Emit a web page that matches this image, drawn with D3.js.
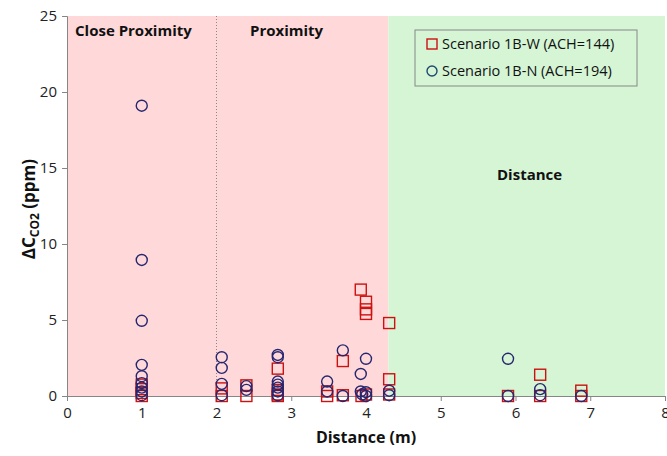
<!DOCTYPE html>
<html>
<head>
<meta charset="utf-8">
<script src="https://cdn.jsdelivr.net/npm/d3@7"></script>
<style>
  body { margin: 0; background: #fff; }
  text { font-family: "Open Sans", "Noto Sans", sans-serif; }
</style>
</head>
<body>
<svg id="chart" width="667" height="456"></svg>
<script>
// Scenario 1B-W (squares)
const wDist  = [1, 1, 1, 1, 2.07, 2.07, 2.4, 2.4, 2.82, 2.82, 2.82, 2.82, 3.48, 3.48, 3.69, 3.69,
                3.93, 3.94, 4.0, 4.0, 4.0, 4.0, 4.31, 4.31, 4.31, 5.9, 6.33, 6.33, 6.88, 6.88];
const wDelta = [0.75, 0.45, 0.2, 0, 0.5, 0, 0.7, 0, 1.8, 0.4, 0.1, 0, 0.3, 0, 2.3, 0.05,
                7.0, 0, 6.2, 5.7, 5.4, 0.1, 4.8, 1.1, 0.1, 0, 1.4, 0, 0.35, 0];
// Scenario 1B-N (circles)
const nDist  = [1, 1, 1, 1, 1, 1, 1, 1, 1, 2.07, 2.07, 2.07, 2.07, 2.4, 2.4,
                2.82, 2.82, 2.82, 2.82, 2.82, 2.82, 2.82, 3.48, 3.48, 3.69, 3.69,
                3.93, 3.93, 3.95, 4.0, 4.0, 4.0, 4.31, 4.31, 5.9, 5.9, 6.33, 6.33, 6.88];
const nDelta = [19.1, 8.95, 4.95, 2.05, 1.3, 0.85, 0.55, 0.3, 0.05, 2.55, 1.85, 0.8, 0.05, 0.65, 0.4,
                2.7, 2.55, 0.95, 0.75, 0.55, 0.3, 0.05, 0.95, 0.3, 3.0, 0,
                1.45, 0.3, 0.1, 2.45, 0.25, 0, 0.35, 0.05, 2.45, 0, 0.45, 0.05, 0];

const seriesNames = ["Scenario 1B-W (ACH=144)", "Scenario 1B-N (ACH=194)"];
const xTicks = [0, 1, 2, 3, 4, 5, 6, 7, 8];
const yTicks = [0, 5, 10, 15, 20, 25];
// zones along distance axis
const zoneFrom = [0, 4.3];
const zoneTo = [4.3, 8];
const zoneFill = ["#ffd9d9", "#d5f5d5"];
const zoneSplit = 2;

const svg = d3.select("#chart");
const margin = { top: 16, right: 2, bottom: 60, left: 67 };
const width = +svg.attr("width") - margin.left - margin.right;
const height = +svg.attr("height") - margin.top - margin.bottom;
const g = svg.append("g").attr("transform", `translate(${margin.left},${margin.top})`);

const x = d3.scaleLinear().domain([0, 8]).range([0, width]);
const y = d3.scaleLinear().domain([0, 25]).range([height, 0]);

// background zones
g.selectAll(".zone")
  .data(zoneFrom)
  .enter()
  .append("rect")
  .attr("x", (d, i) => x(d))
  .attr("y", 0)
  .attr("width", (d, i) => x(zoneTo[i]) - x(d))
  .attr("height", height)
  .attr("fill", (d, i) => zoneFill[i]);

// dotted split line
g.append("line")
  .attr("x1", x(zoneSplit)).attr("x2", x(zoneSplit))
  .attr("y1", 0).attr("y2", height)
  .attr("stroke", "#888")
  .attr("stroke-width", 1)
  .attr("stroke-dasharray", "1,2");

// zone labels
const labelStyle = sel => sel.attr("font-size", "15px").attr("font-weight", "bold").attr("fill", "#111");
g.append("text").attr("x", 8).attr("y", 20).text("Close Proximity").call(labelStyle);
g.append("text").attr("x", 183).attr("y", 20).text("Proximity").call(labelStyle);
g.append("text").attr("x", 430).attr("y", 164).text("Distance").call(labelStyle);

// axes
const xAxis = g.append("g")
  .attr("transform", `translate(0,${height})`)
  .call(d3.axisBottom(x).tickValues(xTicks).tickSize(5).tickPadding(6));
const yAxis = g.append("g")
  .call(d3.axisLeft(y).tickValues(yTicks).tickSize(5).tickPadding(5));
[xAxis, yAxis].forEach(a => {
  a.select(".domain").attr("stroke", "#868686");
  a.selectAll(".tick line").attr("stroke", "#868686");
  a.selectAll(".tick text").attr("font-size", "15px").attr("fill", "#222")
    .style("font-family", "'Open Sans', sans-serif");
});

// axis titles
svg.append("text")
  .attr("x", margin.left + x(4))
  .attr("y", 443)
  .attr("text-anchor", "middle")
  .attr("font-size", "16px")
  .attr("font-weight", "bold")
  .attr("fill", "#111")
  .text("Distance (m)");

const yTitle = svg.append("text")
  .attr("transform", `translate(35,${margin.top + y(12.3)}) rotate(-90)`)
  .attr("text-anchor", "middle")
  .attr("font-size", "17px")
  .attr("font-weight", "bold")
  .attr("fill", "#111");
yTitle.append("tspan").text("ΔC");
yTitle.append("tspan").attr("font-size", "12px").attr("dy", 4).text("CO2");
yTitle.append("tspan").attr("dy", -4).text(" (ppm)");

// markers
const sq = 11;
g.selectAll(".sq")
  .data(wDist)
  .enter()
  .append("rect")
  .attr("class", "sq")
  .attr("x", (d, i) => x(d) - sq / 2)
  .attr("y", (d, i) => y(wDelta[i]) - sq / 2)
  .attr("width", sq)
  .attr("height", sq)
  .attr("fill", "none")
  .attr("stroke", "#cc1111")
  .attr("stroke-width", 1.4);

g.selectAll(".ci")
  .data(nDist)
  .enter()
  .append("circle")
  .attr("class", "ci")
  .attr("cx", d => x(d))
  .attr("cy", (d, i) => y(nDelta[i]))
  .attr("r", 5.5)
  .attr("fill", "none")
  .attr("stroke", "#262670")
  .attr("stroke-width", 1.4);

// legend
const lg = svg.append("g").attr("transform", "translate(415,30)");
lg.append("rect")
  .attr("width", 222).attr("height", 56)
  .attr("fill", "#d5f5d5")
  .attr("stroke", "#888");
lg.append("rect")
  .attr("x", 12).attr("y", 9).attr("width", 10).attr("height", 10)
  .attr("fill", "none").attr("stroke", "#cc1111").attr("stroke-width", 1.4);
lg.append("circle")
  .attr("cx", 17).attr("cy", 41).attr("r", 5)
  .attr("fill", "none").attr("stroke", "#1f4a70").attr("stroke-width", 1.4);
lg.selectAll(".lt")
  .data(seriesNames)
  .enter()
  .append("text")
  .attr("x", 27)
  .attr("y", (d, i) => 19 + i * 27)
  .attr("font-size", "14.5px")
  .attr("fill", "#111")
  .text(d => d);
</script>
</body>
</html>
